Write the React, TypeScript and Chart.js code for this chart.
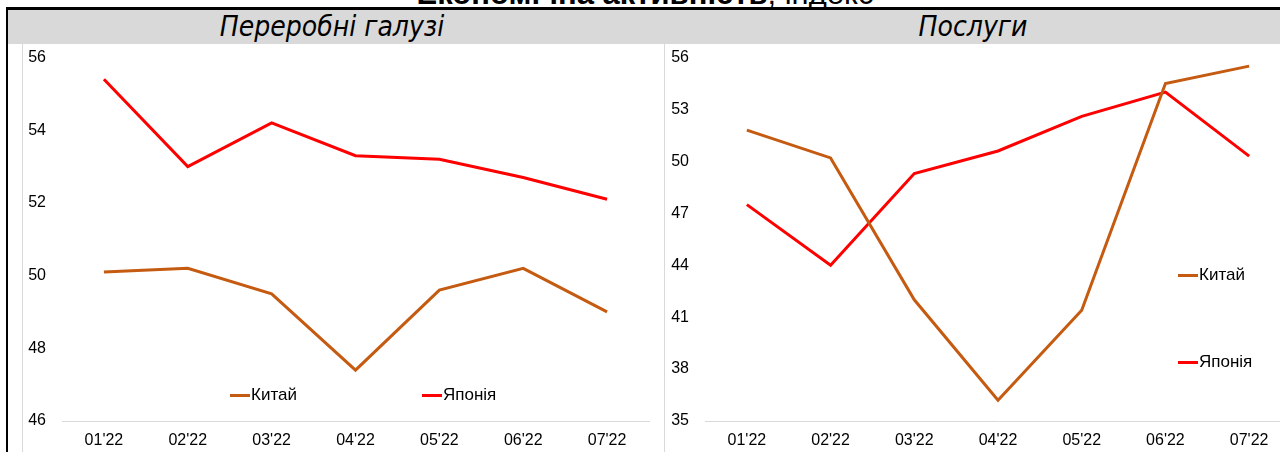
import React, { useEffect, useRef } from "react";
import { Chart, registerables } from "chart.js";

Chart.register(...registerables);

const months = ["01'22", "02'22", "03'22", "04'22", "05'22", "06'22", "07'22"];
const mfgChina = [50.1, 50.2, 49.5, 47.4, 49.6, 50.2, 49.0];
const mfgJapan = [55.4, 53.0, 54.2, 53.3, 53.2, 52.7, 52.1];
const svcChina = [51.8, 50.2, 42.0, 36.2, 41.4, 54.5, 55.5];
const svcJapan = [47.5, 44.0, 49.3, 50.6, 52.6, 54.0, 50.3];
const seriesNames = ["Китай", "Японія"];
const seriesColors = ["#C55A11", "#FF0000"];
const mfgAxis = { min: 46, max: 56, step: 2 };
const svcAxis = { min: 35, max: 56, step: 3 };

const FONT = "'Liberation Sans', Arial, sans-serif";

type PanelProps = {
  china: number[];
  japan: number[];
  axis: { min: number; max: number; step: number };
  width: number;
  height: number;
  padRight: number;
  yWidth: number;
};

function LinePanel({ china, japan, axis, width, height, padRight, yWidth }: PanelProps) {
  const ref = useRef<HTMLCanvasElement | null>(null);
  useEffect(() => {
    if (!ref.current) return;
    const chart = new Chart(ref.current, {
      type: "line",
      data: {
        labels: months,
        datasets: [
          { label: seriesNames[0], data: china, borderColor: seriesColors[0], backgroundColor: seriesColors[0] },
          { label: seriesNames[1], data: japan, borderColor: seriesColors[1], backgroundColor: seriesColors[1] },
        ],
      },
      options: {
        responsive: false,
        animation: false,
        devicePixelRatio: 1,
        layout: { padding: { top: 13.5, right: padRight, left: 0, bottom: 0 } },
        plugins: { legend: { display: false }, tooltip: { enabled: false }, title: { display: false } },
        elements: {
          point: { radius: 0, hoverRadius: 0 },
          line: { tension: 0, borderWidth: 3, borderCapStyle: "butt", borderJoinStyle: "miter" },
        },
        scales: {
          x: {
            type: "category",
            offset: true,
            grid: { display: false, drawTicks: false },
            border: { display: true, color: "#D9D9D9", width: 1 },
            ticks: {
              color: "#000",
              font: { family: FONT, size: 16 },
              padding: 10,
              maxRotation: 0,
              autoSkip: false,
            },
            afterFit: (a: any) => {
              a.height = 31;
              a.paddingLeft = 0;
              a.paddingRight = 0;
            },
          },
          y: {
            min: axis.min,
            max: axis.max,
            grid: { display: false, drawTicks: false },
            border: { display: false },
            ticks: {
              stepSize: axis.step,
              color: "#000",
              font: { family: FONT, size: 16 },
              padding: 16,
            },
            afterFit: (a: any) => {
              a.width = yWidth;
              a.paddingTop = 0;
              a.paddingBottom = 0;
            },
          },
        },
      },
    });
    return () => chart.destroy();
  }, []);
  return <canvas ref={ref} width={width} height={height} style={{ display: "block", width, height }} />;
}

function LegendItem({ color, text, x, y }: { color: string; text: string; x: number; y: number }) {
  return (
    <div
      style={{
        position: "absolute",
        left: x,
        top: y - 10,
        height: 20,
        display: "flex",
        alignItems: "center",
        fontFamily: FONT,
        fontSize: 17,
        color: "#000",
        whiteSpace: "nowrap",
      }}
    >
      <span style={{ display: "inline-block", width: 20, height: 3, background: color, marginRight: 1 }} />
      <span>{text}</span>
    </div>
  );
}

const titleStyle: React.CSSProperties = {
  position: "absolute",
  top: 10,
  height: 34,
  lineHeight: "34px",
  textAlign: "center",
  fontFamily: "'DejaVu Sans Condensed', 'DejaVu Sans', sans-serif",
  fontStyle: "italic",
  fontSize: 28,
  color: "#000",
  whiteSpace: "nowrap",
};

export default function App() {
  return (
    <div
      style={{
        position: "absolute",
        left: 0,
        top: 0,
        width: 1280,
        height: 452,
        overflow: "hidden",
        background: "#fff",
      }}
    >
      {/* main title, cropped at top */}
      <div
        style={{
          position: "absolute",
          left: 0,
          width: 1290,
          top: -22,
          textAlign: "center",
          fontFamily: FONT,
          fontSize: 31,
          lineHeight: "32px",
          color: "#000",
          whiteSpace: "nowrap",
        }}
      >
        <b>Економічна активність</b>, індекс
      </div>
      {/* outer frame */}
      <div
        style={{
          position: "absolute",
          left: 6,
          top: 7,
          width: 1400,
          height: 600,
          borderTop: "3px solid #000",
          borderLeft: "2px solid #000",
        }}
      />
      {/* gray header band */}
      <div style={{ position: "absolute", left: 8, top: 10, width: 1280, height: 34, background: "#D9D9D9" }} />
      <div style={{ ...titleStyle, left: 8, width: 648 }}>Переробні галузі</div>
      <div style={{ ...titleStyle, left: 664, width: 618 }}>Послуги</div>

      {/* left panel */}
      <div style={{ position: "absolute", left: 22, top: 44, borderLeft: "1px solid #D9D9D9" }}>
        <LinePanel china={mfgChina} japan={mfgJapan} axis={mfgAxis} width={633} height={408} padRight={7} yWidth={39} />
      </div>
      {/* right panel */}
      <div style={{ position: "absolute", left: 664, top: 44, borderLeft: "1px solid #D9D9D9" }}>
        <LinePanel china={svcChina} japan={svcJapan} axis={svcAxis} width={635} height={408} padRight={9} yWidth={40} />
      </div>

      <LegendItem color={seriesColors[0]} text={seriesNames[0]} x={230} y={395} />
      <LegendItem color={seriesColors[1]} text={seriesNames[1]} x={422} y={395} />
      <LegendItem color={seriesColors[0]} text={seriesNames[0]} x={1178} y={275} />
      <LegendItem color={seriesColors[1]} text={seriesNames[1]} x={1178} y={362} />
    </div>
  );
}
